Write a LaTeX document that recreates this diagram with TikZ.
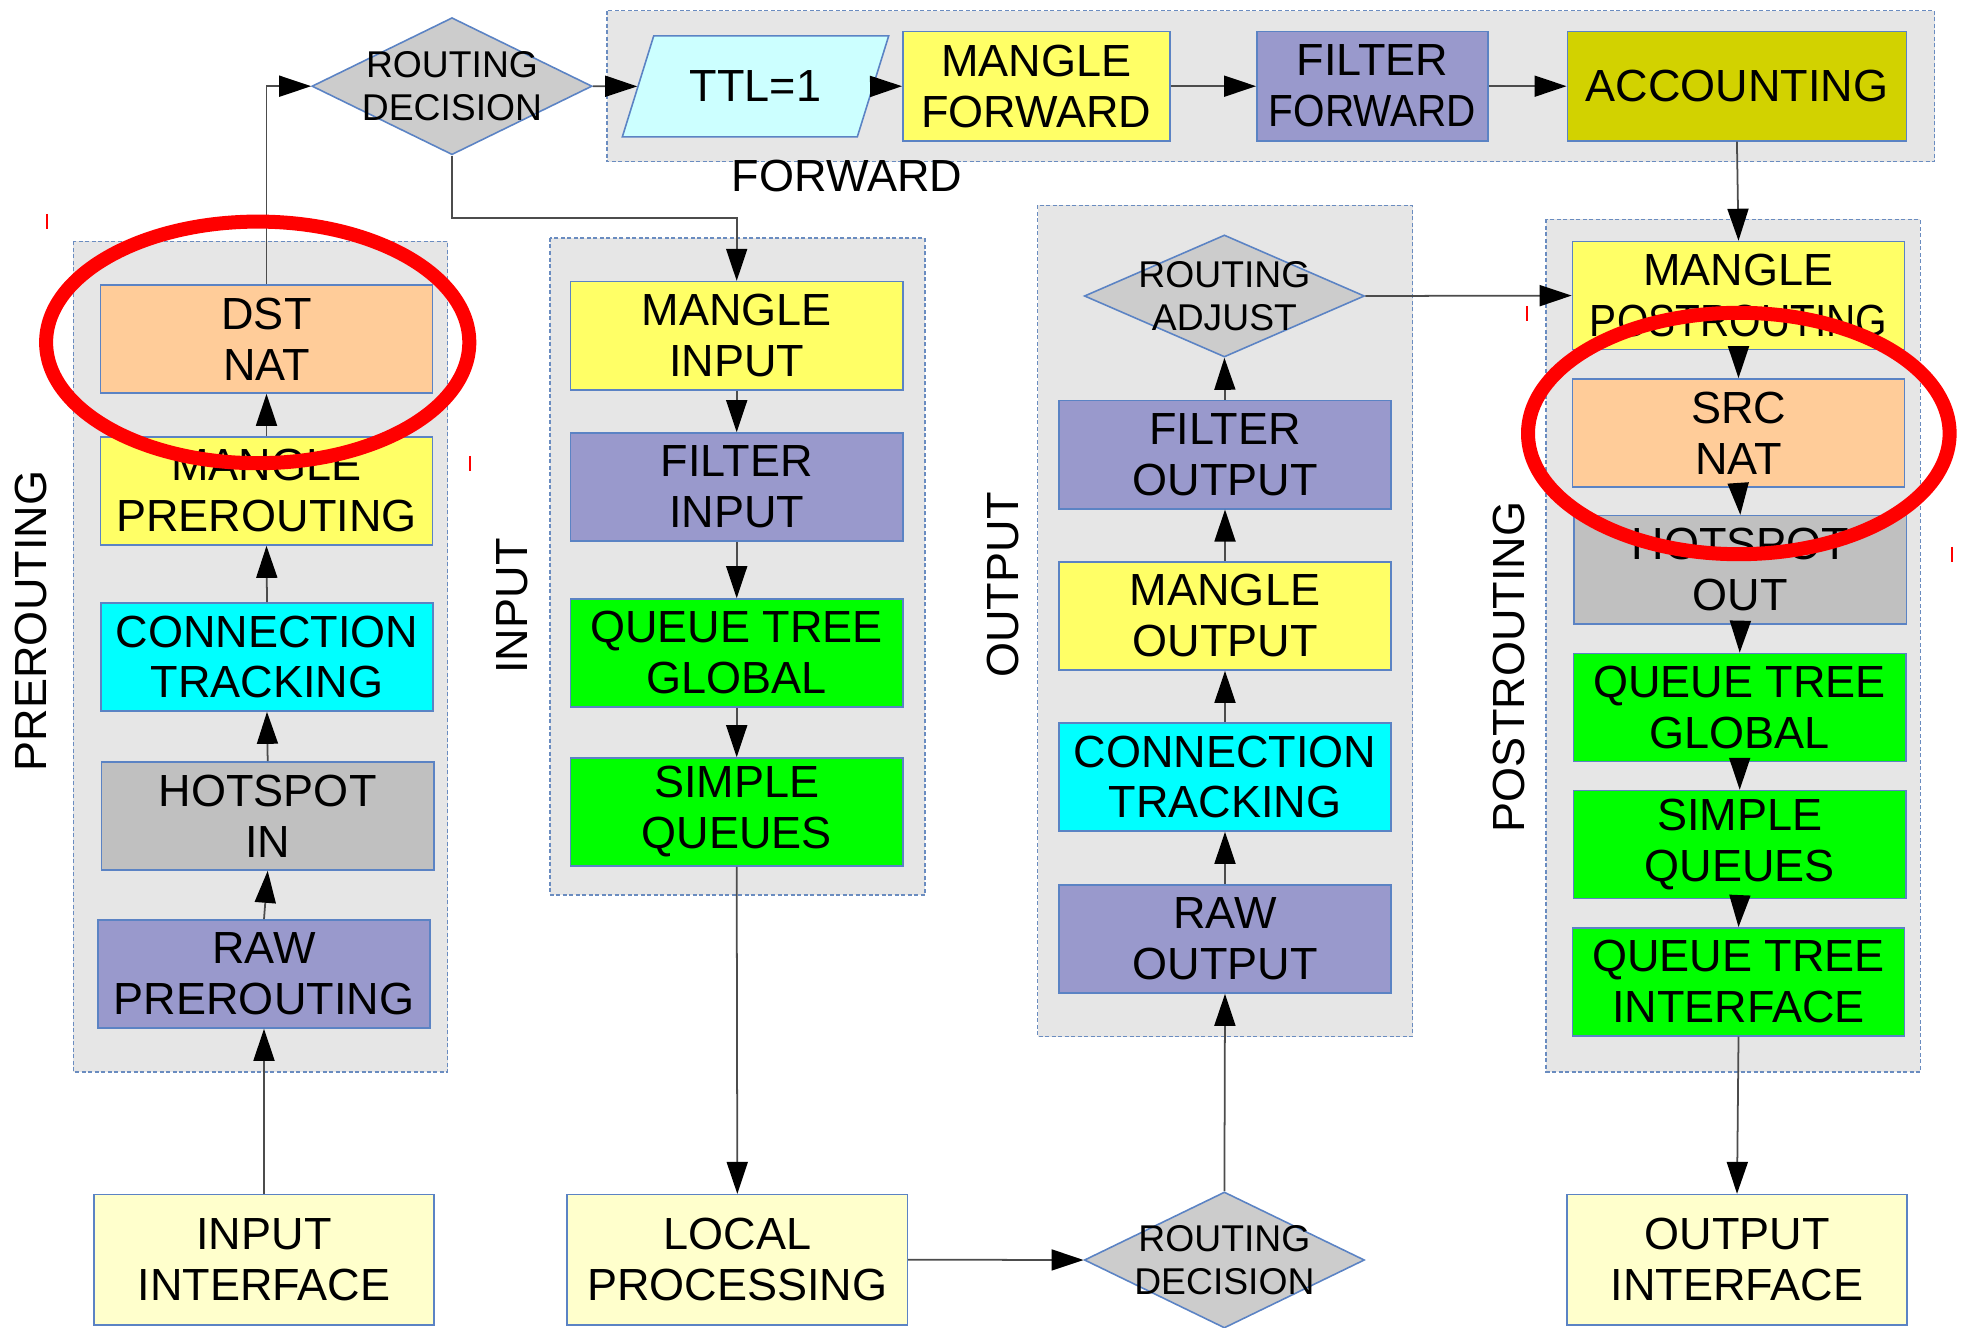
\documentclass[tikz,border=0pt]{standalone}
\usepackage{fontspec}
\setmainfont{Liberation Sans}
\usepackage{graphicx}
\usepackage{xcolor}
\usetikzlibrary{shapes.geometric}
\usetikzlibrary{arrows.meta}

\definecolor{edgeblue}{HTML}{5B83C4}
\definecolor{dashblue}{HTML}{6A8CC0}
\definecolor{grpgray}{HTML}{E6E6E6}
\definecolor{mangleyel}{HTML}{FFFF66}
\definecolor{natorange}{HTML}{FFCC99}
\definecolor{filterblue}{HTML}{9999CC}
\definecolor{trackcyan}{HTML}{00FFFF}
\definecolor{queuegreen}{HTML}{00FF00}
\definecolor{hotgray}{HTML}{C0C0C0}
\definecolor{decgray}{HTML}{CCCCCC}
\definecolor{accolive}{HTML}{D2D200}
\definecolor{ttlcyan}{HTML}{CCFFFF}
\definecolor{ifyellow}{HTML}{FFFFCC}

\begin{document}
\begin{tikzpicture}[x=0.01cm,y=-0.01cm,
  stage/.style={draw=edgeblue,line width=0.45pt,inner sep=0pt,align=center,
    minimum width=3.32cm,minimum height=1.08cm,font=\fontsize{12.8}{14.5}\selectfont},
  iface/.style={stage,fill=ifyellow,minimum width=3.4cm,minimum height=1.3cm},
  decision/.style={diamond,draw=edgeblue,line width=0.45pt,fill=decgray,inner sep=0pt,
    minimum width=2.8cm,minimum height=1.37cm},
  dectext/.style={align=center,inner sep=0pt,font=\fontsize{10.6}{12.3}\selectfont},
  group/.style={fill=grpgray,draw=dashblue,line width=0.4pt,dash pattern=on 0.4mm off 0.25mm},
  grouplabel/.style={inner sep=0pt,font=\fontsize{12.8}{14.5}\selectfont},
  flow/.style={black!70,line width=0.5pt,-{Triangle[length=3.2mm,width=2.1mm,color=black]}},
  circled/.style={red,line width=1.4mm},
  redtick/.style={red,line width=0.2mm}
]
\useasboundingbox (0,0) rectangle (1967,1328);

% chain boxes
\path[group] (607,10.6) rectangle (1934.7,161.8);
\path[group] (73.4,241.4) rectangle (447.6,1071.9);
\path[group] (549.8,238) rectangle (924.8,894.8);
\path[group] (1037.5,205.4) rectangle (1412.5,1036.7);
\path[group] (1546,219.4) rectangle (1920.3,1071.9);

\node[grouplabel,rotate=90] (lblpre) at (31,621) {PREROUTING};
\node[grouplabel,rotate=90] (lblin) at (512,606) {INPUT};
\node[grouplabel,rotate=90] (lblout) at (1003,585) {OUTPUT};
\node[grouplabel,rotate=90] (lblpost) at (1509,667) {POSTROUTING};
\node[grouplabel] (lblfwd) at (847,176) {FORWARD};

% forward
\node[decision] (routdec1) at (452,86.2) {};
\node[dectext] (routdec1txt) at (routdec1) {ROUTING\\DECISION};
\node[stage,trapezium,trapezium left angle=56.8,trapezium right angle=123.2,
  trapezium stretches=true,fill=ttlcyan,minimum width=2.67cm,minimum height=1.01cm] (ttl) at (755.5,86.4) {TTL=1};
\node[stage,fill=mangleyel,minimum width=2.67cm,minimum height=1.09cm] (mangfwd) at (1036.4,86.2) {MANGLE\\FORWARD};
\node[stage,fill=filterblue,minimum width=2.31cm,minimum height=1.09cm] (filtfwd) at (1372.4,86.2) {FILTER\\\scalebox{0.9}[1]{FORWARD}};
\node[stage,fill=accolive,minimum width=3.39cm,minimum height=1.09cm] (accounting) at (1736.9,86.2) {ACCOUNTING};

% prerouting
\node[stage,fill=natorange] (dstnat) at (266.5,339) {DST\\NAT};
\node[stage,fill=mangleyel] (manglepre) at (266.5,491) {MANGLE\\PREROUTING};
\node[stage,fill=trackcyan] (trackpre) at (267,657) {CONNECTION\\TRACKING};
\node[stage,fill=hotgray] (hotin) at (267.7,816) {HOTSPOT\\IN};
\node[stage,fill=filterblue] (rawpre) at (264,974) {RAW\\PREROUTING};
\node[iface] (inputif) at (264,1259.7) {INPUT\\INTERFACE};

% input
\node[stage,fill=mangleyel] (mangin) at (736.7,335.7) {MANGLE\\INPUT};
\node[stage,fill=filterblue] (filtin) at (736.7,487) {FILTER\\INPUT};
\node[stage,fill=queuegreen] (qtgin) at (736.7,653) {QUEUE TREE\\GLOBAL};
\node[stage,fill=queuegreen] (sqin) at (736.7,812) {SIMPLE\\QUEUES};
\node[iface] (localproc) at (737.3,1259.7) {LOCAL\\PROCESSING};

% output
\node[decision,minimum height=1.22cm] (routadj) at (1224.4,296) {};
\node[dectext] (routadjtxt) at (routadj) {ROUTING\\ADJUST};
\node[stage,fill=filterblue] (filtout) at (1225,454.7) {FILTER\\OUTPUT};
\node[stage,fill=mangleyel] (mangout) at (1225,616) {MANGLE\\OUTPUT};
\node[stage,fill=trackcyan] (trackout) at (1225,777) {CONNECTION\\TRACKING};
\node[stage,fill=filterblue] (rawout) at (1225,939) {RAW\\OUTPUT};
\node[decision,minimum height=1.36cm] (routdec2) at (1224.4,1260) {};
\node[dectext] (routdec2txt) at (routdec2) {ROUTING\\DECISION};

% postrouting
\node[stage,fill=mangleyel] (manglepost) at (1738.5,295.6) {MANGLE\\\scalebox{0.9}[1]{POSTROUTING}};
\node[stage,fill=natorange] (srcnat) at (1738.5,433) {SRC\\NAT};
\node[stage,fill=hotgray] (hotout) at (1740.3,569.7) {HOTSPOT\\OUT};
\node[stage,fill=queuegreen] (qtgpost) at (1739.7,707.5) {QUEUE TREE\\GLOBAL};
\node[stage,fill=queuegreen] (sqpost) at (1739.7,844.6) {SIMPLE\\QUEUES};
\node[stage,fill=queuegreen] (qtipost) at (1738.5,981.9) {QUEUE TREE\\INTERFACE};
\node[iface] (outputif) at (1737,1259.7) {OUTPUT\\INTERFACE};

\coordinate (bend) at (452,218);

\draw[flow] (inputif.north) -- (rawpre.south);
\draw[flow] (rawpre.north) -- (hotin.south);
\draw[flow] (hotin.north) -- (trackpre.south);
\draw[flow] (trackpre.north) -- (manglepre.south);
\draw[flow] (manglepre.north) -- (dstnat.south);
\draw[flow] (dstnat.north) |- (routdec1.west);
\draw[flow] (routdec1.east) -- (ttl.west);
\draw[flow] (ttl.east) -- (mangfwd.west);
\draw[flow] (mangfwd.east) -- (filtfwd.west);
\draw[flow] (filtfwd.east) -- (accounting.west);
\draw[flow] (accounting.south) -- (manglepost.north);
\draw[flow] (routdec1.south) -- (bend) -| (mangin.north);
\draw[flow] (mangin.south) -- (filtin.north);
\draw[flow] (filtin.south) -- (qtgin.north);
\draw[flow] (qtgin.south) -- (sqin.north);
\draw[flow] (sqin.south) -- (localproc.north);
\draw[flow] (localproc.east) -- (routdec2.west);
\draw[flow] (routdec2.north) -- (rawout.south);
\draw[flow] (rawout.north) -- (trackout.south);
\draw[flow] (trackout.north) -- (mangout.south);
\draw[flow] (mangout.north) -- (filtout.south);
\draw[flow] (filtout.north) -- (routadj.south);
\draw[flow] (routadj.east) -- (manglepost.west);
\draw[flow] (manglepost.south) -- (srcnat.north);
\draw[flow] (srcnat.south) -- (hotout.north);
\draw[flow] (hotout.south) -- (qtgpost.north);
\draw[flow] (qtgpost.south) -- (sqpost.north);
\draw[flow] (sqpost.south) -- (qtipost.north);
\draw[flow] (qtipost.south) -- (outputif.north);

% NAT marks
\draw[circled] (257.7,342.4) ellipse [x radius=211.6, y radius=120.8];
\draw[circled] (1738.8,433.5) ellipse [x radius=210.8, y radius=120.7];
\draw[redtick] (47,214) -- (47,229);
\draw[redtick] (470,456) -- (470,471);
\draw[redtick] (1527,306) -- (1527,321);
\draw[redtick] (1952,547) -- (1952,562);
\end{tikzpicture}
\end{document}
